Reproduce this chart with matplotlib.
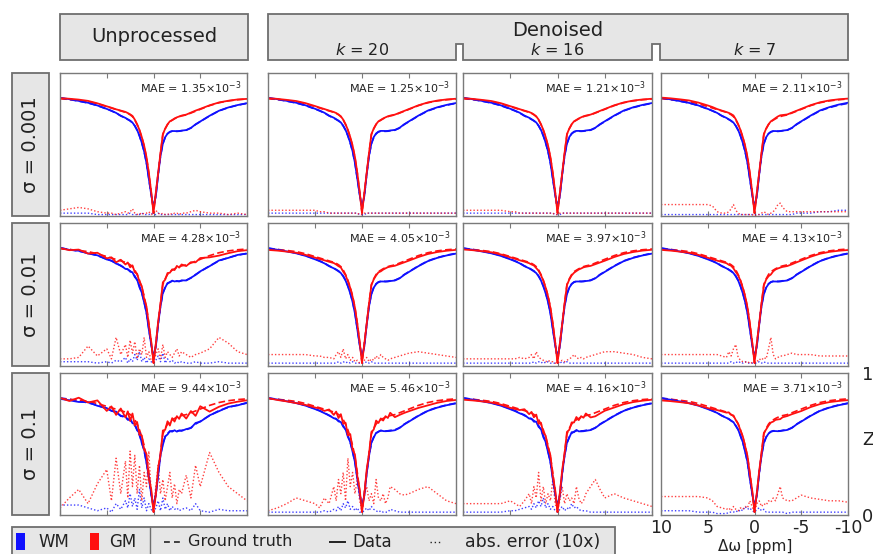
import numpy as np
import matplotlib.pyplot as plt
from matplotlib.patches import Rectangle, Polygon

plt.rcParams['font.family'] = ['DejaVu Sans']
plt.rcParams['axes.unicode_minus'] = False
plt.rcParams['mathtext.fontset'] = 'dejavusans'

# ---------------- data ----------------
offsets = [10, 9, 8, 7, 6, 5, 4.5, 4, 3.5, 3, 2.75, 2.5, 2.25, 2, 1.75, 1.5, 1.25, 1,
           0.75, 0.5, 0.25, 0, -0.25, -0.5, -0.75, -1, -1.25, -1.5, -1.75, -2, -2.25,
           -2.5, -2.75, -3, -3.5, -4, -4.5, -5, -6, -7, -8, -9, -10]

gt_gm = [0.820, 0.815, 0.808, 0.800, 0.785, 0.765, 0.755, 0.745, 0.735, 0.725, 0.718,
         0.708, 0.695, 0.672, 0.640, 0.600, 0.550, 0.490, 0.410, 0.300, 0.170, 0.020,
         0.160, 0.300, 0.440, 0.570, 0.610, 0.640, 0.660, 0.670, 0.680, 0.688, 0.695,
         0.700, 0.707, 0.720, 0.733, 0.746, 0.772, 0.792, 0.805, 0.813, 0.818]
gt_wm = [0.825, 0.815, 0.803, 0.790, 0.772, 0.748, 0.735, 0.720, 0.700, 0.685, 0.675,
         0.665, 0.652, 0.630, 0.600, 0.560, 0.510, 0.450, 0.370, 0.260, 0.150, 0.060,
         0.140, 0.290, 0.420, 0.505, 0.550, 0.575, 0.588, 0.593, 0.593, 0.592, 0.593,
         0.596, 0.600, 0.615, 0.640, 0.660, 0.700, 0.735, 0.758, 0.775, 0.788]

# signed deviation of data from ground truth, in units of 1e-3 (abs error x10 = |dev|/100)
dev_gm_s0001_unp = [4, 5, 6, 5, 3, 2, 2, 1, 2, 3, 2, 3, 5, 2, 1, 2, 1, 2, 2, 3, 1, 2, 4, 2, 1, 2, 1, 1, 2, 1, 2, 2, 1, 2, 2, 3, 4, 3, 2, 2, 1, 2, 1]
dev_wm_s0001_unp = [2, 2, 2, 2, 1, 1, 1, 1, 1, 1, 1, 2, 1, 1, 1, 1, 2, 1, 1, 1, 2, 1, 1, 2, 1, 1, 1, 1, 1, 1, 1, 1, 1, 1, 1, 1, 1, 1, 1, 1, 1, 1, 1]
dev_gm_s0001_k20 = [4, 4, 4, 4, 4, 4, 3, 3, 2, 2, 2, 2, 2, 2, 2, 2, 2, 2, 2, 2, 1, 1, 2, 2, 2, 2, 2, 2, 2, 2, 2, 2, 2, 2, 2, 2, 2, 2, 2, 2, 2, 2, 2]
dev_wm_s0001_k20 = [2, 2, 2, 2, 2, 2, 2, 2, 2, 2, 2, 2, 2, 2, 2, 2, 2, 2, 2, 2, 1, 1, 1, 2, 2, 2, 2, 2, 2, 2, 2, 2, 2, 2, 2, 2, 2, 2, 2, 2, 2, 2, 2]
dev_gm_s0001_k16 = [4, 4, 4, 4, 4, 3, 3, 2, 2, 2, 2, 2, 2, 2, 2, 2, 2, 2, 2, 2, 1, 1, 2, 2, 2, 2, 2, 2, 2, 2, 2, 2, 2, 2, 2, 2, 2, 2, 2, 2, 2, 2, 2]
dev_wm_s0001_k16 = [2, 2, 2, 2, 2, 2, 2, 2, 2, 2, 2, 2, 2, 2, 2, 2, 2, 2, 2, 2, 1, 1, 1, 2, 2, 2, 2, 2, 2, 2, 2, 2, 2, 2, 2, 2, 2, 2, 2, 2, 2, 2, 2]
dev_gm_s0001_k7 = [8, 8, 8, 8, 8, 8, 7, 3, 2, 2, 3, 5, 8, 4, 2, 1, 1, 1, 1, 1, 1, 0, 1, 1, 2, 3, 2, 1, 2, 3, 5, 8, 9, 6, 3, 3, 3, 3, 3, 3, 3, 3, 3]
dev_wm_s0001_k7 = [1, 1, 1, 1, 1, 1, 1, 1, 1, 1, 1, 1, 1, 1, 1, 1, 1, 1, 1, 1, 1, 1, 1, 1, 1, 1, 1, 1, 1, 1, 1, 1, 1, 1, 1, 1, 2, 2, 2, 3, 3, 4, 4]

dev_gm_s001_unp = [5, -5, 6, -14, 7, -12, 5, -20, 8, -15, 6, -18, 9, -17, 5, -12, 8, -20, 6, -10, 4, 3, -8, 12, -5, 15, -6, 10, -8, 6, -9, 12, -7, 10, -8, 6, -8, 9, -12, -20, -16, -10, -8]
dev_wm_s001_unp = [3, -3, 3, -3, 2, -3, 2, -4, 3, -6, 2, -5, 3, -8, 4, -10, 3, -6, 2, -5, 3, 2, -4, 7, -3, 9, -2, 5, -3, 4, -2, 3, -2, 3, -2, 2, -3, 2, -2, 3, -2, 2, -2]
dev_gm_s001_k20 = [-8, -8, -8, -8, -8, -7, -7, -6, -6, -5, -8, -10, -6, -12, -5, -8, -4, -6, -3, -4, -2, 2, -4, -6, -3, -5, -4, -7, -5, -8, -6, -5, -4, -5, -6, -7, -8, -9, -10, -9, -8, -7, -6]
dev_wm_s001_k20 = [-2, -2, -2, -2, -2, -2, -2, -2, -2, -2, -2, -3, -2, -3, -2, -3, -2, -3, -2, -2, -2, 2, -2, -3, -2, -3, -2, -2, -2, -2, -2, -2, -2, -2, -2, -2, -2, -2, -2, -2, -2, -2, -2]
dev_gm_s001_k16 = [-5, -5, -5, -5, -5, -5, -5, -6, -5, -6, -8, -5, -10, -6, -5, -4, -3, -4, -3, -3, -2, 2, -3, -4, -3, -4, -5, -6, -8, -6, -5, -6, -5, -6, -7, -8, -9, -10, -10, -9, -8, -6, -5]
dev_wm_s001_k16 = [-2, -2, -2, -2, -2, -2, -2, -2, -2, -2, -2, -3, -2, -3, -2, -3, -2, -3, -2, -2, -2, 2, -2, -3, -2, -3, -2, -2, -2, -2, -2, -2, -2, -2, -2, -2, -2, -2, -2, -2, -2, -2, -2]
dev_gm_s001_k7 = [-8, -8, -8, -8, -8, -8, -8, -8, -7, -6, -10, -7, -12, -15, -6, -4, -3, -3, -2, -3, -2, 2, -3, -5, -4, -6, -5, -12, -20, -8, -5, -6, -7, -7, -8, -9, -8, -8, -8, -7, -7, -7, -7]
dev_wm_s001_k7 = [-2, -2, -2, -2, -2, -2, -2, -2, -2, -2, -2, -3, -2, -3, -2, -3, -2, -3, -2, -2, -2, 2, -2, -3, -2, -3, -2, -2, -2, -2, -2, -2, -2, -2, -2, -2, -2, -2, -2, -2, -2, -2, -2]

dev_gm_s01_unp = [5, -12, 18, -8, 22, -32, 10, -40, 15, -38, 12, -45, 20, -42, 15, -35, 10, -30, 20, -45, 15, 5, -20, 35, -15, 25, -10, 20, -30, 12, -22, 8, -18, 15, -28, 12, -35, 20, -44, -30, -20, -15, -10]
dev_wm_s01_unp = [-7, -7, -7, 5, -3, 5, -2, 8, -4, 10, -5, 15, -6, 12, -4, 18, -5, 12, -3, 8, -4, 2, 5, -10, 3, -12, 4, -8, 3, -6, 4, -5, 3, -4, 5, -3, 8, -3, 2, -4, 3, -3, 3]
dev_gm_s01_k20 = [3, -5, -8, -12, -10, -8, -5, -12, 8, -20, 10, -25, 15, -30, 10, -40, 20, -30, 15, -25, 10, 3, -15, 20, -10, 15, -8, 25, -12, 10, -15, 8, -12, 20, -18, -15, -14, -15, -18, -20, -15, -10, -8]
dev_wm_s01_k20 = [-2, -2, -2, -2, -2, -2, -2, -3, 2, -4, 3, -6, 3, -8, 5, -10, 4, -6, 3, -5, 2, 2, -3, 5, -3, 6, -4, 3, -2, 3, -2, -2, -2, -4, -3, -2, -2, -2, -2, -2, -2, -2, -2]
dev_gm_s01_k16 = [-8, -8, -8, -8, -8, -10, -8, -6, 10, -15, 8, -20, 12, -30, 10, -20, 8, -15, 10, -25, 8, 3, -10, 20, -8, 15, -10, 12, -8, 20, -12, 8, -10, 15, -20, -25, -18, -12, -15, -12, -10, -8, -6]
dev_wm_s01_k16 = [-2, -2, -2, -2, -2, -3, -3, -4, 5, -6, 4, -8, 5, -10, 6, -12, 5, -8, 4, -6, 3, 2, -4, 6, -3, 5, -4, 8, -5, 6, -4, -3, -3, -3, -2, -2, -2, -2, -2, -2, -2, -2, -2]
dev_gm_s01_k7 = [-13, -13, -13, -13, -13, -12, -10, -6, -5, -4, 5, -3, 6, -4, 3, -5, 4, -6, 5, -10, 6, 2, -8, 10, -6, 8, -7, -10, -9, -12, -10, -15, -20, -12, -10, -10, -12, -14, -12, -11, -10, -10, -9]
dev_wm_s01_k7 = [-3, -3, -3, -3, -2, -2, -2, -1, -1, -1, 2, -2, 2, -3, 2, -4, 3, -6, 4, -5, 3, 2, -4, 5, -3, 4, -2, -2, -2, -2, -2, -2, -2, -2, -1, -2, -2, -2, -2, -2, -2, -2, -2]

mae_s0001 = ["1.35", "1.25", "1.21", "2.11"]
mae_s001 = ["4.28", "4.05", "3.97", "4.13"]
mae_s01 = ["9.44", "5.46", "4.16", "3.71"]

row_labels = ["σ = 0.001", "σ = 0.01", "σ = 0.1"]
col_labels = ["$k$ = 20", "$k$ = 16", "$k$ = 7"]
xtick_vals = [10, 5, 0, -5, -10]
xtick_text = ["10", "5", "0", "-5", "-10"]

dev_gm = [[dev_gm_s0001_unp, dev_gm_s0001_k20, dev_gm_s0001_k16, dev_gm_s0001_k7],
          [dev_gm_s001_unp, dev_gm_s001_k20, dev_gm_s001_k16, dev_gm_s001_k7],
          [dev_gm_s01_unp, dev_gm_s01_k20, dev_gm_s01_k16, dev_gm_s01_k7]]
dev_wm = [[dev_wm_s0001_unp, dev_wm_s0001_k20, dev_wm_s0001_k16, dev_wm_s0001_k7],
          [dev_wm_s001_unp, dev_wm_s001_k20, dev_wm_s001_k16, dev_wm_s001_k7],
          [dev_wm_s01_unp, dev_wm_s01_k20, dev_wm_s01_k16, dev_wm_s01_k7]]
maes = [mae_s0001, mae_s001, mae_s01]

# ---------------- layout ----------------
W, H = 873, 554
fig = plt.figure(figsize=(W / 100, H / 100), dpi=100)

ov = fig.add_axes([0, 0, 1, 1], zorder=0)
ov.set_xlim(0, W)
ov.set_ylim(H, 0)
ov.axis('off')

col_x = [(60, 247), (268, 456), (463, 652), (661, 848)]
row_y = [(73, 216), (223, 366), (373, 515)]

BOXF = '#e6e6e6'
BOXE = '#6e6e6e'
TXT = '#222222'
BLUE = '#1010ff'
RED = '#ff1010'

# header boxes
ov.add_patch(Rectangle((60, 14), 188, 46, fc=BOXF, ec=BOXE, lw=1.3))
ov.text(154, 37, "Unprocessed", ha='center', va='center', fontsize=14, color=TXT)
den = [(268, 60), (268, 14), (848, 14), (848, 60), (660, 60), (660, 44), (652, 44),
       (652, 60), (463, 60), (463, 44), (456, 44), (456, 60)]
ov.add_patch(Polygon(den, closed=True, fc=BOXF, ec=BOXE, lw=1.3))
ov.text(558, 30, "Denoised", ha='center', va='center', fontsize=14, color=TXT)
for (x0, x1), lab in zip(col_x[1:], col_labels):
    ov.text((x0 + x1) / 2, 50, lab, ha='center', va='center', fontsize=11.5, color=TXT)

# row label boxes
for (y0, y1), lab in zip(row_y, row_labels):
    ov.add_patch(Rectangle((12, y0), 37, y1 - y0, fc=BOXF, ec=BOXE, lw=1.3))
    ov.text(31, (y0 + y1) / 2, lab, ha='center', va='center', rotation=90,
            fontsize=14, color=TXT)

# legend
ov.add_patch(Rectangle((12, 527), 603, 40, fc=BOXF, ec=BOXE, lw=1.3, clip_on=False))
ov.plot([150, 150], [527, 560], color=BOXE, lw=1.0)
ov.add_patch(Rectangle((16, 533), 9, 17, fc=BLUE, ec='none'))
ov.text(38, 542, "WM", ha='left', va='center', fontsize=12, color=TXT)
ov.add_patch(Rectangle((90, 533), 9, 17, fc=RED, ec='none'))
ov.text(109, 542, "GM", ha='left', va='center', fontsize=12, color=TXT)
ov.plot([164, 181], [542, 542], color=TXT, lw=1.2, dashes=(3.5, 2.5))
ov.text(188, 542, "Ground truth", ha='left', va='center', fontsize=11.6, color=TXT)
ov.plot([330, 345], [542, 542], color=TXT, lw=1.4)
ov.text(352, 542, "Data", ha='left', va='center', fontsize=12, color=TXT)
ov.plot([430, 442], [542, 542], color=TXT, lw=1.0, linestyle=(0, (1, 2)))
ov.text(465, 542, "abs. error (10x)", ha='left', va='center', fontsize=12.4, color=TXT)

# right side labels
ov.text(862, 440, "Z", ha='left', va='center', fontsize=13, color=TXT)
ov.text(755, 554, "Δω [ppm]", ha='center', va='bottom', fontsize=11, color=TXT)

x = np.array(offsets)
g_gm = np.array(gt_gm)
g_wm = np.array(gt_wm)

for r, (y0, y1) in enumerate(row_y):
    for c, (x0, x1) in enumerate(col_x):
        ax = fig.add_axes([x0 / W, 1 - y1 / H, (x1 - x0) / W, (y1 - y0) / H], zorder=2)
        ax.set_facecolor('white')
        d_gm = np.array(dev_gm[r][c]) / 1000.0
        d_wm = np.array(dev_wm[r][c]) / 1000.0
        # abs error (10x)
        ax.plot(x, np.abs(d_wm) * 10, color=BLUE, lw=1.0, linestyle=(0, (1, 1.5)), alpha=0.8)
        ax.plot(x, np.abs(d_gm) * 10, color=RED, lw=1.0, linestyle=(0, (1, 1.5)), alpha=0.8)
        # ground truth
        ax.plot(x, g_wm, color=BLUE, lw=1.2, dashes=(4, 2))
        ax.plot(x, g_gm, color=RED, lw=1.2, dashes=(4, 2))
        # data
        ax.plot(x, g_wm + d_wm, color=BLUE, lw=1.3)
        ax.plot(x, g_gm + d_gm, color=RED, lw=1.3)
        ax.set_xlim(10, -10)
        ax.set_ylim(0, 1)
        for s in ax.spines.values():
            s.set_color('#7a7a7a')
            s.set_linewidth(1.0)
        ax.set_xticks(xtick_vals)
        ax.tick_params(axis='x', direction='in', top=True, bottom=True, length=3.5,
                       color='#7a7a7a', labelbottom=False)
        ax.set_yticks([])
        ax.text(0.97, 0.955, "MAE = %s×10$^{-3}$" % maes[r][c], transform=ax.transAxes,
                ha='right', va='top', fontsize=8.0, color=TXT)
        if r == 2 and c == 3:
            ax.set_xticklabels(xtick_text)
            ax.tick_params(axis='x', labelbottom=True, labelsize=12.5, pad=3,
                           labelcolor=TXT)
            ax.yaxis.tick_right()
            ax.set_yticks([0, 1])
            ax.set_yticklabels(["0", "1"])
            ax.tick_params(axis='y', length=0, labelsize=13, pad=10, labelcolor=TXT)

fig.savefig("out.png", dpi=100)
